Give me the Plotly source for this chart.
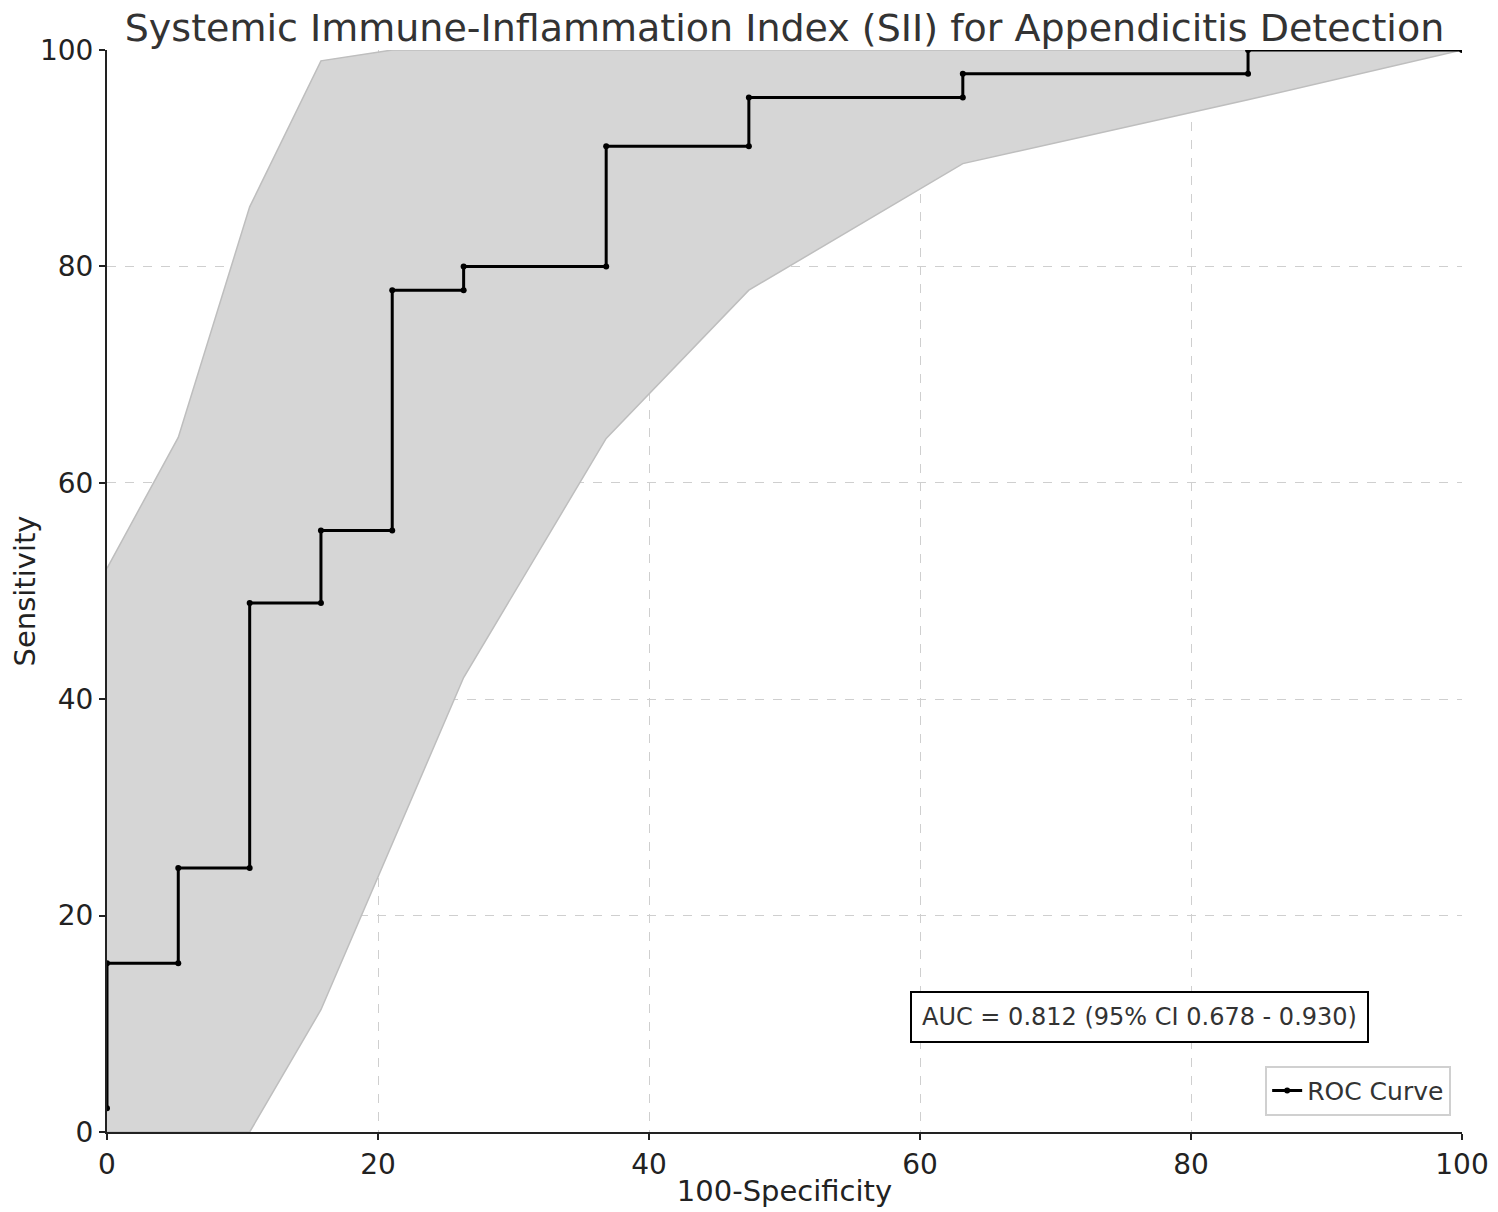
import plotly.graph_objects as go

# ROC step curve (100-specificity, sensitivity)
roc_x = [0, 0, 5.26, 5.26, 10.53, 10.53, 15.79, 15.79, 21.05, 21.05, 26.32, 26.32,
         36.84, 36.84, 47.37, 47.37, 63.16, 63.16, 84.21, 84.21, 100]
roc_y = [2.2, 15.6, 15.6, 24.4, 24.4, 48.9, 48.9, 55.6, 55.6, 77.8, 77.8, 80.0,
         80.0, 91.1, 91.1, 95.6, 95.6, 97.8, 97.8, 100, 100]

# confidence band
upper_x = [0, 5.26, 10.53, 15.79, 21.05, 100]
upper_y = [52.1, 64.2, 85.5, 99.0, 100, 100]
lower_x = [0, 5.26, 10.53, 15.79, 26.32, 36.84, 47.37, 63.16, 84.21, 100]
lower_y = [0, 0, 0, 11.3, 42.0, 64.1, 77.8, 89.5, 95.4, 100]

ticks = [0, 20, 40, 60, 80, 100]
auc_text = "AUC = 0.812 (95% CI 0.678 - 0.930)"

font = "DejaVu Sans"

fig = go.Figure()

band_x = upper_x + lower_x[::-1]
band_y = upper_y + lower_y[::-1]
fig.add_trace(go.Scatter(x=band_x, y=band_y, fill='toself',
                         fillcolor='rgba(214,214,214,1)',
                         line=dict(color='rgba(190,190,190,1)', width=1.5),
                         mode='lines', showlegend=False, hoverinfo='skip'))

fig.add_trace(go.Scatter(x=roc_x, y=roc_y, mode='lines+markers',
                         line=dict(color='black', width=3),
                         marker=dict(color='black', size=6),
                         name='ROC Curve'))

fig.add_annotation(x=76.2, y=10.6, xref='x', yref='y', text=auc_text,
                   showarrow=False, font=dict(family=font, size=24, color='#333'),
                   bgcolor='white', bordercolor='black', borderwidth=2, borderpad=10)

axis_common = dict(range=[0, 100], tickvals=ticks, showgrid=True, automargin=False,
                   gridcolor='#cfcfcf', griddash='dash', gridwidth=1,
                   ticks='outside', ticklen=6, tickwidth=1.5, tickcolor='#222',
                   showline=True, linecolor='#222', linewidth=2,
                   ticklabeloverflow='allow',
                   zeroline=False, tickfont=dict(family=font, size=28, color='#222'))

fig.update_xaxes(title=dict(text='100-Specificity', font=dict(family=font, size=29, color='#222'),
                            standoff=10), **axis_common)
fig.update_yaxes(title=dict(text='Sensitivity', font=dict(family=font, size=29, color='#222'),
                            standoff=10), **axis_common)

# page body adds an 8px offset; keep a little room on the right for the "100" label
fig.update_layout(
    width=1490, height=1200,
    margin=dict(l=99, r=36, t=42, b=76),
    plot_bgcolor='white', paper_bgcolor='white',
    title=dict(text='Systemic Immune-Inflammation Index (SII) for Appendicitis Detection',
               xref='paper', x=0.5, xanchor='center',
               yref='container', y=1.0, yanchor='top', pad=dict(t=6),
               font=dict(family=font, size=38, color='#333')),
    legend=dict(x=0.992, y=0.015, xanchor='right', yanchor='bottom',
                bgcolor='white', bordercolor='#d0d0d0', borderwidth=2,
                font=dict(family=font, size=25, color='#333')),
    showlegend=True,
)

fig.write_html("out.html")
